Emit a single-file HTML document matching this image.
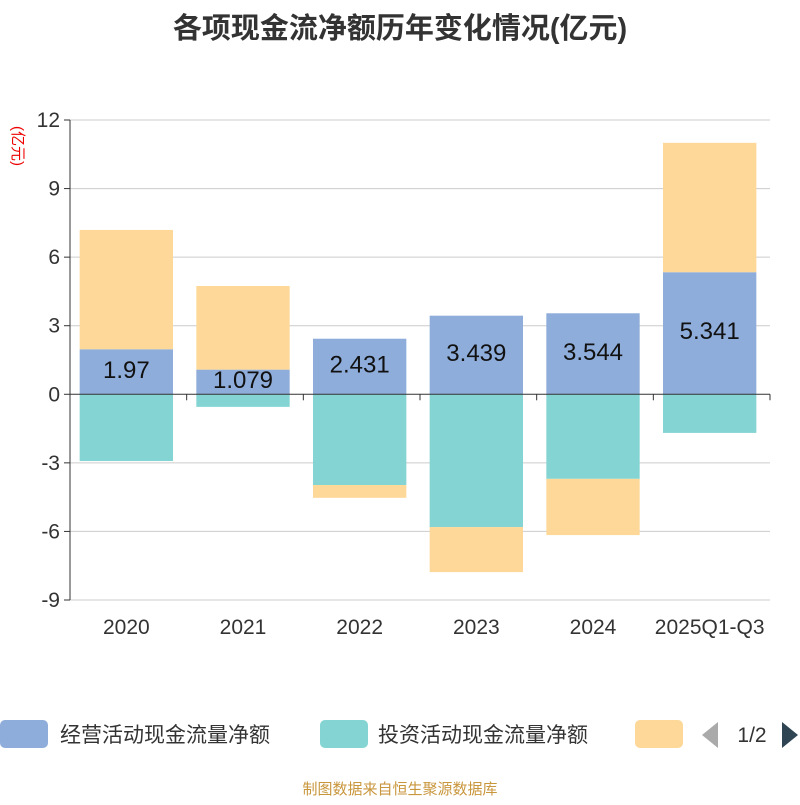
<!DOCTYPE html>
<html><head><meta charset="utf-8"><style>
body{margin:0;background:#fff;}
svg text{font-family:"Liberation Sans","Noto Sans CJK SC",sans-serif;}
</style></head><body>
<svg id="c" width="800" height="800" xmlns="http://www.w3.org/2000/svg">
<text x="400" y="38" text-anchor="middle" font-size="29" font-weight="bold" fill="#333">各项现金流净额历年变化情况(亿元)</text>
<text x="13" y="146" text-anchor="middle" font-size="15" fill="#e00" transform="rotate(90 13 146)">(亿元)</text>
<g id="grid"></g><g id="bars"></g><g id="axes"></g>
<g>
<rect x="0" y="720" width="48" height="28" rx="5" fill="#8eadda"/>
<text x="60" y="742" font-size="21" fill="#333">经营活动现金流量净额</text>
<rect x="320" y="720" width="48" height="28" rx="5" fill="#84d4d4"/>
<text x="378" y="742" font-size="21" fill="#333">投资活动现金流量净额</text>
<rect x="635" y="720" width="48" height="28" rx="5" fill="#fdd898"/>
<polygon points="718,722 718,748 702,735" fill="#aaa"/>
<text x="752" y="742" text-anchor="middle" font-size="21" fill="#333">1/2</text>
<polygon points="782,722 782,748 798,735" fill="#2f4554"/>
</g>
<text x="400" y="794" text-anchor="middle" font-size="15" fill="#c8963c">制图数据来自恒生聚源数据库</text>
</svg>
<script>
const categories=["2020","2021","2022","2023","2024","2025Q1-Q3"];
const operating=[1.97,1.079,2.431,3.439,3.544,5.341];
const investing=[-2.92,-0.55,-3.97,-5.81,-3.70,-1.69];
const financing=[5.22,3.66,-0.56,-1.97,-2.46,5.66];
const yTicks=[12,9,6,3,0,-3,-6,-9];
const NS="http://www.w3.org/2000/svg";
const L=70,R=770,T=120,B=600,ymax=12,ymin=-9;
const y=v=>T+(ymax-v)/(ymax-ymin)*(B-T);
const bw=(R-L)/categories.length;
const x=i=>L+i*bw;
function mk(p,tag,a){const e=document.createElementNS(NS,tag);for(const k in a)e.setAttribute(k,a[k]);p.appendChild(e);return e;}
const g=document.getElementById('grid'),b=document.getElementById('bars'),ax=document.getElementById('axes');
yTicks.forEach(t=>{
 if(t!==0){const l=mk(g,'line',{x1:L,x2:R,y1:y(t),y2:y(t),stroke:'#ccc'});
 
 }
 const tk=mk(ax,'line',{x1:L-6,x2:L,y1:y(t),y2:y(t),stroke:'#333'});
 
 
 const tx=mk(ax,'text',{x:L-10,y:y(t)+7,'text-anchor':'end','font-size':21,fill:'#333'});tx.textContent=t;
 
 
});
const cols=['#8eadda','#84d4d4','#fdd898'];
categories.forEach((c,i)=>{
 let pos=0,neg=0;
 [operating[i],investing[i],financing[i]].forEach((v,s)=>{
  let y0,y1;
  if(v>=0){y0=pos;y1=pos+v;pos=y1;}else{y0=neg;y1=neg+v;neg=y1;}
  const r=mk(b,'rect',{x:x(i)+bw*0.1-2,width:bw*0.8,y:Math.min(y(y0),y(y1)),height:Math.abs(y(y1)-y(y0)),fill:cols[s]});
  
  
 });
 const lb=mk(b,'text',{x:x(i)+bw/2-2,y:y(operating[i]/2)+6,'text-anchor':'middle','font-size':24,fill:'#111'});
 lb.textContent=operating[i];
 
 
 const xl=mk(ax,'text',{x:x(i)+bw/2-2,y:634,'text-anchor':'middle','font-size':21,fill:'#333'});xl.textContent=c;
 
 
});
for(let i=0;i<=categories.length;i++){const t=mk(ax,'line',{x1:x(i),x2:x(i),y1:y(0),y2:y(0)+6,stroke:'#333'});
 
 }
const ya=mk(ax,'line',{x1:L,x2:L,y1:T,y2:B,stroke:'#333'});


const xa=mk(ax,'line',{x1:L,x2:R,y1:y(0),y2:y(0),stroke:'#333'});


</script>
</body></html>
